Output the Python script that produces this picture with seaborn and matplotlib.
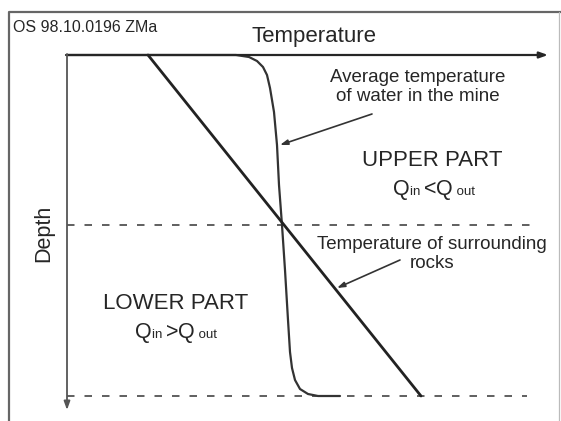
import numpy as np
import pandas as pd
import matplotlib
matplotlib.use("Agg")
import matplotlib.pyplot as plt
from matplotlib.transforms import IdentityTransform
import seaborn as sns

sns.set_style("white")
plt.rcParams['font.family'] = ['Liberation Sans', 'DejaVu Sans']

# ---- data (diagram units: x = temperature position, y = depth position) ----
water_temp = [67, 200, 236, 249, 257, 263, 267, 270, 272, 274, 277, 279, 282, 285, 288, 290, 292, 295, 300, 308, 318, 340]
water_depth = [55, 55, 55, 57, 61, 67, 75, 88, 100, 112, 145, 185, 225, 270, 320, 352, 368, 380, 389, 394, 396, 396]
rock_temp = [148, 421]
rock_depth = [55, 396]
boundary_depths = [225, 396]
boundary_ends = [532, 527]

title_text = "OS 98.10.0196 ZMa"
x_label = "Temperature"
y_label = "Depth"
water_label = "Average temperature\nof water in the mine"
rock_label = "Temperature of surrounding\nrocks"
upper_label = "UPPER PART"
lower_label = "LOWER PART"

W, H = 561, 421
fig = plt.figure(figsize=(W / 100, H / 100), dpi=100)
ax = fig.add_axes([0, 0, 1, 1])
ax.set_xlim(0, W)
ax.set_ylim(H, 0)
ax.axis("off")

ink = "#262626"
grey = "#555555"

# outer frame
sns.lineplot(x=[9, 9, W], y=[H, 12, 12], ax=ax, sort=False, color="#666666", lw=1.6, estimator=None)
sns.lineplot(x=[559.5, 559.5], y=[12, H], ax=ax, color="#bbbbbb", lw=0.9, estimator=None)

# axes arrows
ax.annotate("", xy=(548, 55), xytext=(66, 55),
            arrowprops=dict(arrowstyle="-|>,head_length=0.5,head_width=0.18", color=ink, lw=1.6, shrinkA=0, shrinkB=0))
ax.annotate("", xy=(67, 410), xytext=(67, 54),
            arrowprops=dict(arrowstyle="-|>,head_length=0.5,head_width=0.18", color=grey, lw=1.3, shrinkA=0, shrinkB=0))

# boundary dashed lines
for d, e in zip(boundary_depths, boundary_ends):
    sns.lineplot(x=[67, e], y=[d, d], ax=ax, color="#444444", lw=1.2, linestyle=(0, (4.5, 6)), estimator=None)

# curves
df_w = pd.DataFrame({"t": water_temp, "d": water_depth})
sns.lineplot(data=df_w, x="t", y="d", ax=ax, sort=False, estimator=None, color="#333333", lw=1.6)
df_r = pd.DataFrame({"t": rock_temp, "d": rock_depth})
sns.lineplot(data=df_r, x="t", y="d", ax=ax, sort=False, estimator=None, color="#222222", lw=2.0)

# texts
ax.text(13, 31.5, title_text, fontsize=11.5, color=ink, va="baseline", ha="left")
ax.text(314, 42, x_label, fontsize=16, color=ink, va="baseline", ha="center")
ax.text(44, 233, y_label, fontsize=15.5, color=ink, va="center", ha="center", rotation=90)

arrow_kw = dict(arrowstyle="-|>,head_length=0.45,head_width=0.15", color="#333333", lw=1.2,
                shrinkA=0, shrinkB=0)
ax.text(418, 87, water_label, fontsize=13.5, color=ink, ha="center", va="center", linespacing=1.15)
ax.annotate("", xy=(280, 145), xytext=(372, 114), arrowprops=arrow_kw)

ax.text(432, 160, upper_label, fontsize=16, color=ink, va="center", ha="center")
ax.text(176, 303.5, lower_label, fontsize=16, color=ink, va="center", ha="center")
ax.text(432, 254, rock_label, fontsize=13.5, color=ink, va="center", ha="center", linespacing=1.1)
ax.annotate("", xy=(337, 288), xytext=(400, 260), arrowprops=arrow_kw)

fig.canvas.draw()
renderer = fig.canvas.get_renderer()


def rich(xc, ybase, pieces):
    texts = []
    for s, size in pieces:
        t = ax.text(0, 0, s, fontsize=size, color=ink, va="baseline", ha="left")
        texts.append(t)
    widths = [t.get_window_extent(renderer).width for t in texts]
    X, Y = ax.transData.transform((xc, ybase))
    cur = X - sum(widths) / 2
    for t, w in zip(texts, widths):
        t.set_transform(IdentityTransform())
        t.set_position((cur, Y))
        cur += w


rich(434, 195, [("Q", 15.5), ("in ", 9.5), ("<", 15.5), ("Q", 15.5), (" out", 9.5)])
rich(176, 338, [("Q", 15.5), ("in ", 9.5), (">", 15.5), ("Q", 15.5), (" out", 9.5)])

fig.savefig("out.png", dpi=100)
